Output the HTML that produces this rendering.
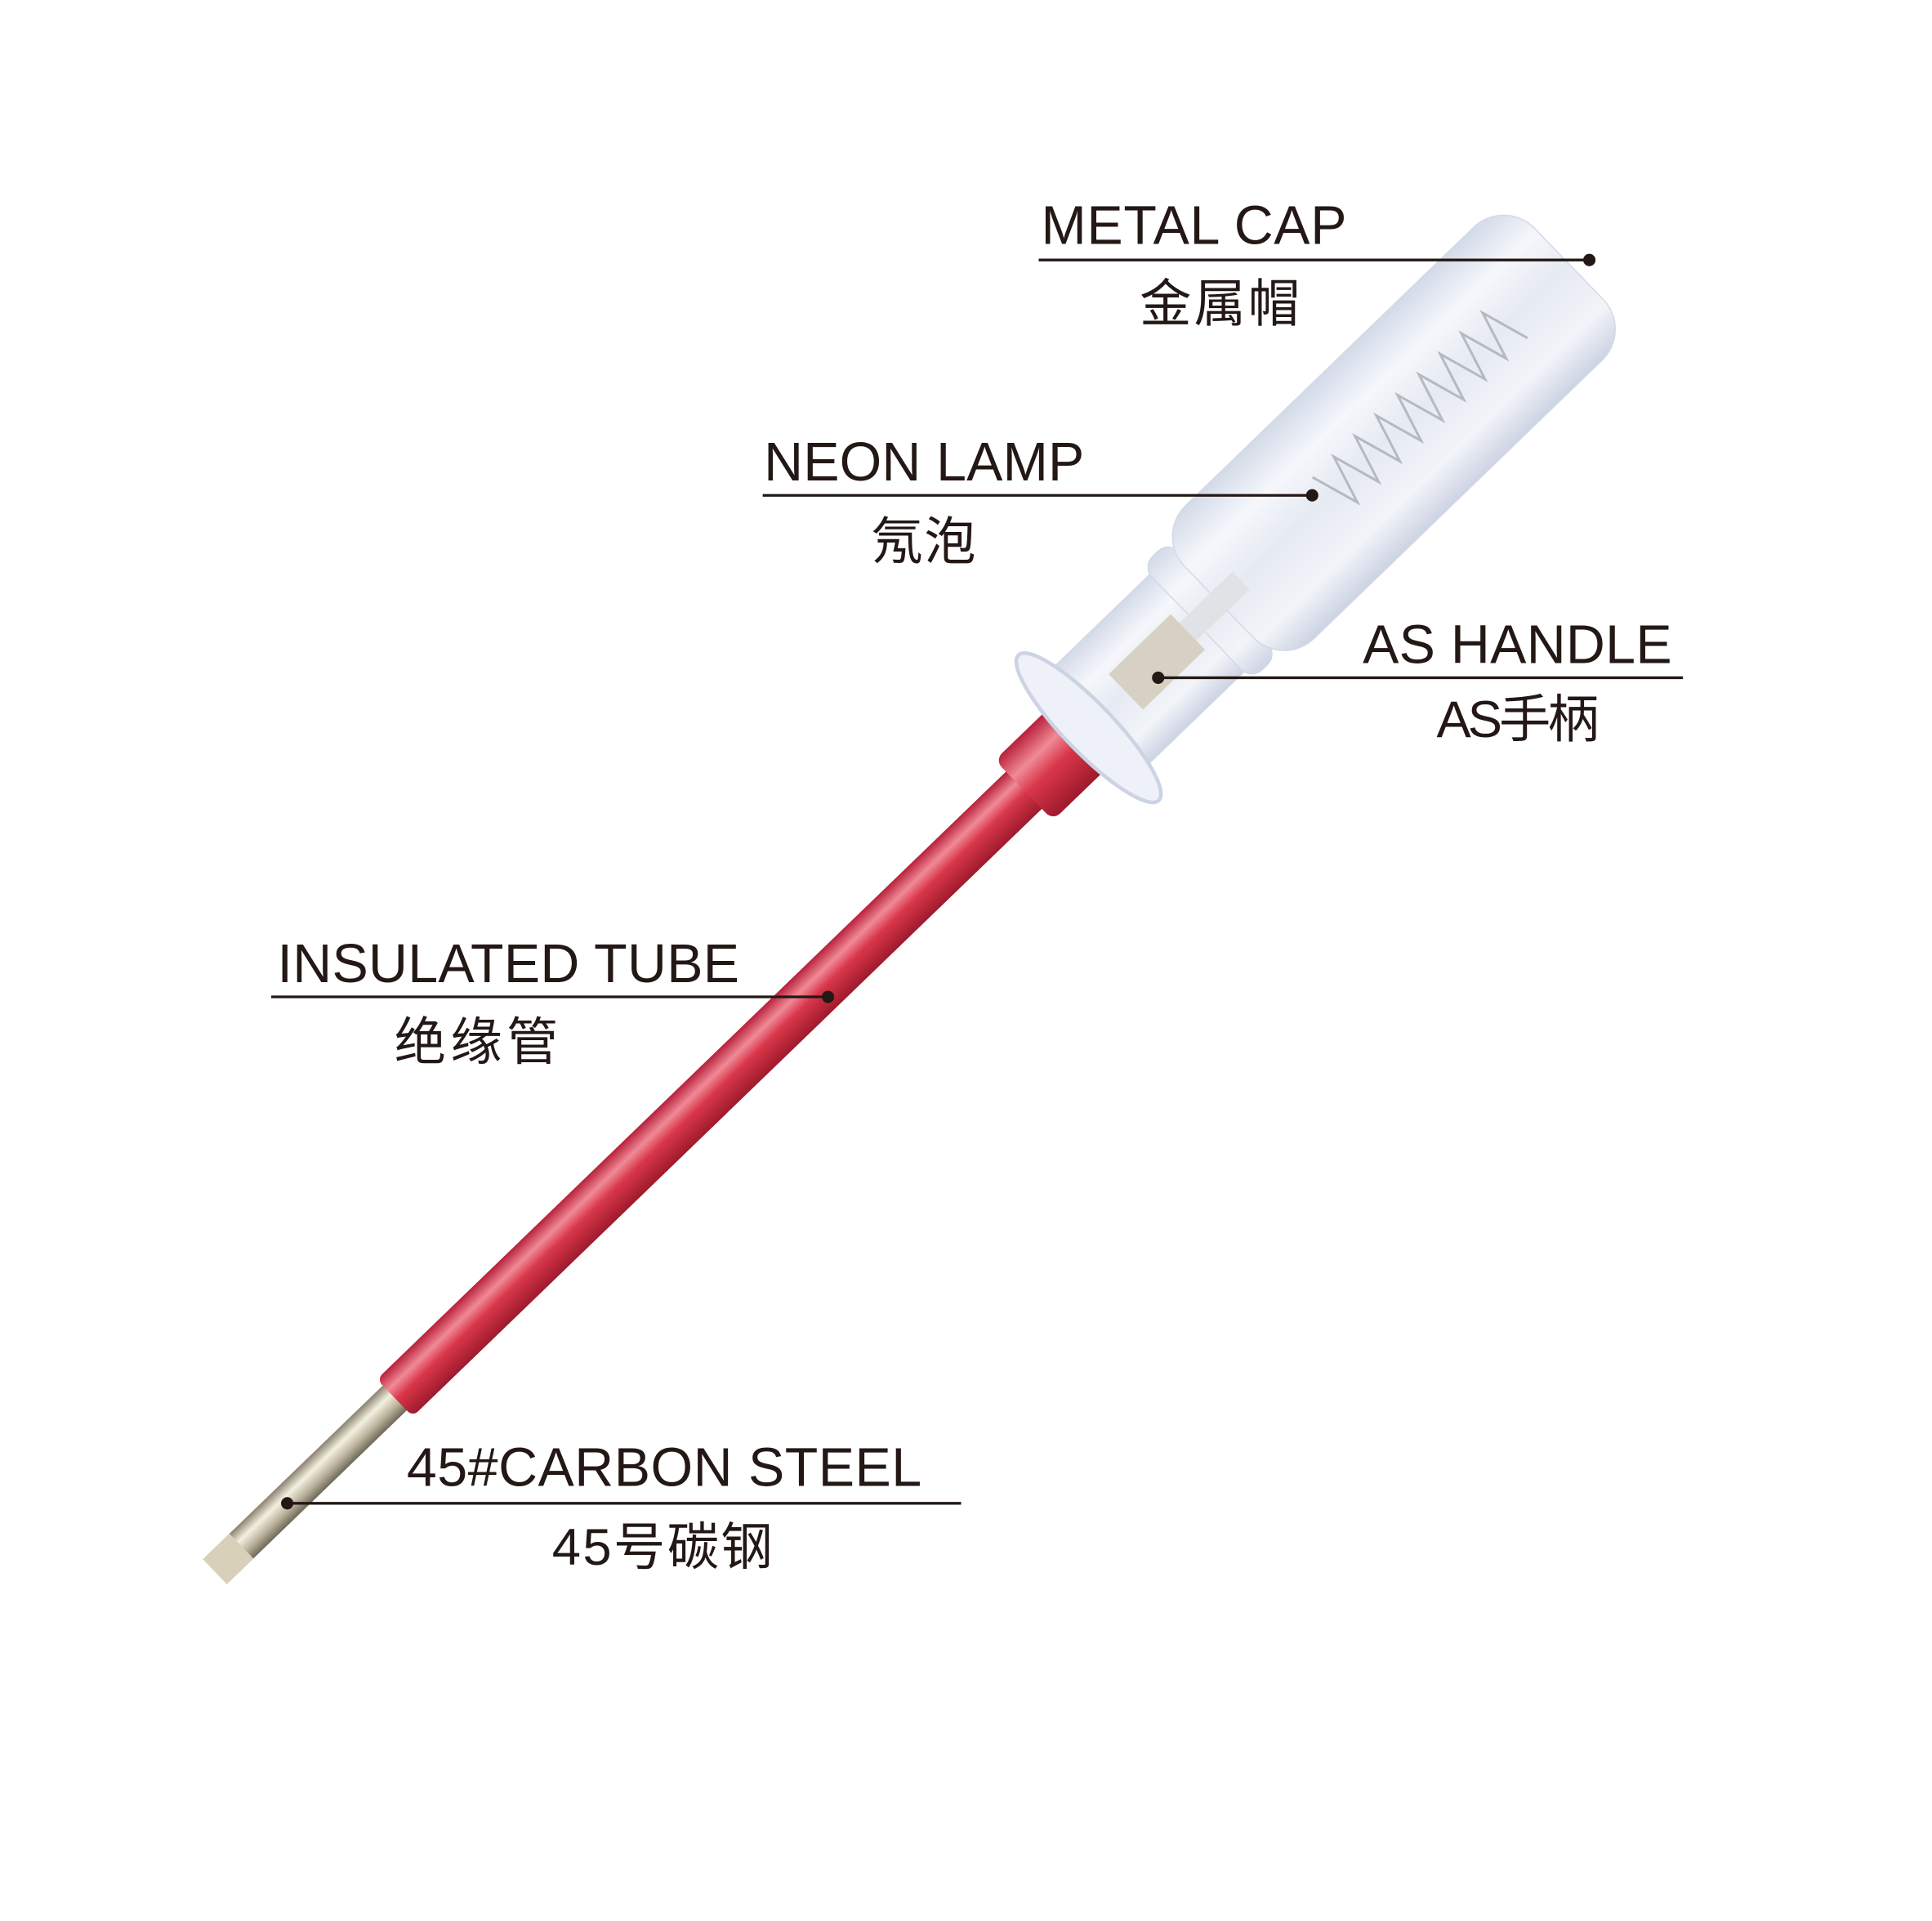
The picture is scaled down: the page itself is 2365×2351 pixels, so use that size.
<!DOCTYPE html>
<html><head><meta charset="utf-8"><style>
html,body{margin:0;padding:0;background:#fff;}
svg{display:block;}
text{fill:#231815;font-family:"Liberation Sans","Noto Sans CJK SC",sans-serif;}
</style></head><body>
<svg width="2365" height="2351" viewBox="0 0 1568 1559" xmlns="http://www.w3.org/2000/svg">
<defs>
<linearGradient id="red" x1="0" y1="0" x2="0" y2="1">
<stop offset="0" stop-color="#b8203a"/><stop offset="0.3" stop-color="#f08a96"/><stop offset="0.55" stop-color="#d9364a"/><stop offset="1" stop-color="#9e1a2c"/></linearGradient>
<linearGradient id="steel" x1="0" y1="0" x2="0" y2="1">
<stop offset="0" stop-color="#8a8270"/><stop offset="0.35" stop-color="#f4f0e0"/><stop offset="0.7" stop-color="#b8b09a"/><stop offset="1" stop-color="#6e6858"/></linearGradient>
<linearGradient id="clear" x1="0" y1="0" x2="0" y2="1">
<stop offset="0" stop-color="#d3dae8"/><stop offset="0.25" stop-color="#f5f7fb"/><stop offset="0.5" stop-color="#e6eaf2"/><stop offset="0.8" stop-color="#f2f4f9"/><stop offset="1" stop-color="#ccd3e3"/></linearGradient>
</defs>
<g transform="translate(180,1270) rotate(-44)">
  <polygon points="-6,-14 200,-14 200,14 -6,14" fill="url(#steel)"/>
  <rect x="-8" y="-14" width="30" height="28" fill="#d8d0b8"/>
  <rect x="195" y="-21" width="730" height="42" rx="6" fill="url(#red)"/>
  <rect x="905" y="-34" width="80" height="68" rx="8" fill="url(#red)"/>
  <rect x="975" y="-55" width="135" height="110" rx="10" fill="url(#clear)" stroke="#d3d9e6"/>
  <rect x="1100" y="-64" width="30" height="128" rx="12" fill="url(#clear)" stroke="#d3d9e6"/>
  <rect x="1125" y="-75" width="395" height="150" rx="35" fill="url(#clear)" stroke="#d3d9e6"/>
  <polyline points="1250,-20 1262,20 1274,-20 1286,20 1298,-20 1310,20 1322,-20 1334,20 1346,-20 1358,20 1370,-20 1382,20 1394,-20 1406,20 1418,-20 1430,20 1442,-20 1454,20" fill="none" stroke="#b5b9c1" stroke-width="2"/>
  <rect x="1090" y="-10" width="60" height="20" fill="#e0e2e6"/>
  <rect x="1020" y="-20" width="70" height="40" fill="#d6d1c2"/>
  <ellipse cx="978" cy="0" rx="20" ry="82" fill="#eef1f8" stroke="#ccd3e3" stroke-width="3"/>
</g>
<g stroke="#231815" stroke-width="2.2">
<line x1="843" y1="211" x2="1290" y2="211"/>
<line x1="619" y1="402" x2="1065" y2="402"/>
<line x1="940" y1="550" x2="1366" y2="550"/>
<line x1="220" y1="809" x2="672" y2="809"/>
<line x1="233" y1="1220" x2="780" y2="1220"/>
</g>
<g fill="#231815">
<circle cx="1290" cy="211" r="5"/><circle cx="1065" cy="402" r="5"/><circle cx="940" cy="550" r="5"/><circle cx="672" cy="809" r="5"/><circle cx="233" cy="1220" r="5"/>
</g>
<g font-size="44">
<text x="845" y="198" textLength="248">METAL CAP</text>
<text x="620" y="390" textLength="260">NEON LAMP</text>
<text x="1106" y="538" textLength="251">AS HANDLE</text>
<text x="225" y="797" textLength="375">INSULATED TUBE</text>
<text x="330" y="1206" textLength="418">45#CARBON STEEL</text>
</g>
<g font-size="42">
<text x="925" y="261" textLength="130">金属帽</text>
<text x="707" y="454" textLength="85">氖泡</text>
<text x="1166" y="598" textLength="132">AS手柄</text>
<text x="320" y="860" textLength="133">绝缘管</text>
<text x="448" y="1270" textLength="179">45号碳钢</text>
</g>
</svg>
</body></html>
